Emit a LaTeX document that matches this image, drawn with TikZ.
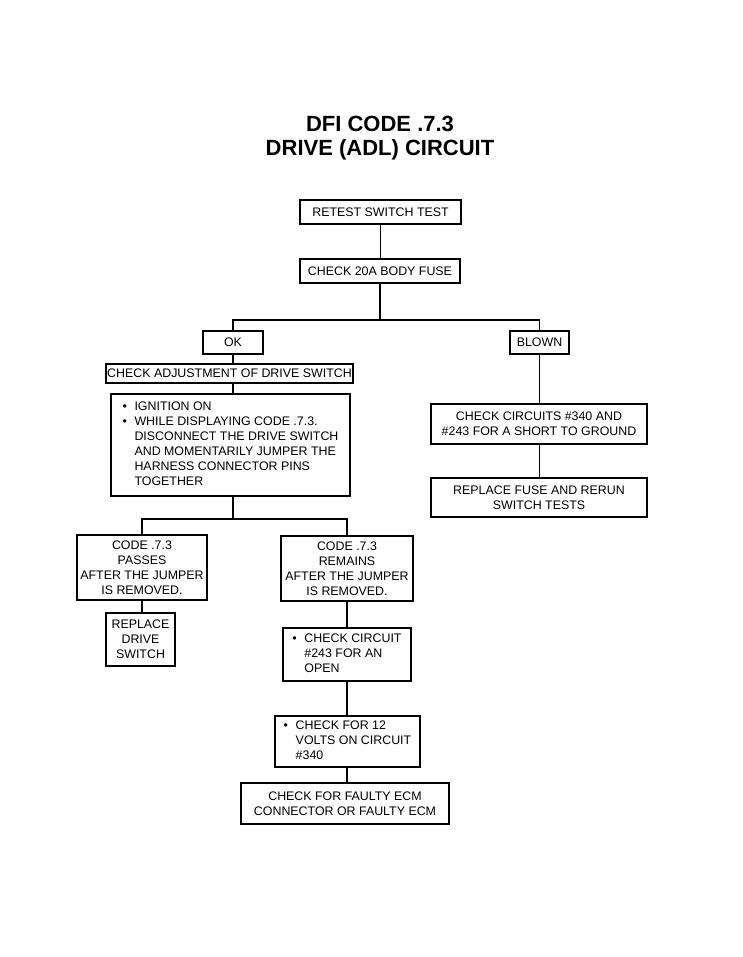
\documentclass[tikz,border=0pt]{standalone}
\usepackage{fontspec}
\setmainfont{Liberation Sans}
\begin{document}
\begin{tikzpicture}[x=1pt,y=-1pt,
  box/.style={draw=black,line width=1.6pt,inner sep=0pt,align=center,
    font=\fontsize{12.4}{15}\selectfont},
  conn/.style={draw=black,line width=1.5pt},
  thinconn/.style={draw=black,line width=0.9pt},
  ttl/.style={font=\fontsize{22}{26}\selectfont\bfseries}]
\useasboundingbox (0,0) rectangle (743,957);
\node[ttl] (t1) at (380,124) {DFI CODE .7.3};
\node[ttl] (t2) at (380,150) {DRIVE (ADL) CIRCUIT};
\node[box,minimum width=161pt,minimum height=24pt] (retest) at (380.5,212) {RETEST SWITCH TEST};
\node[box,minimum width=160pt,minimum height=24pt] (fuse) at (380,271) {CHECK 20A BODY FUSE};
\node[box,minimum width=60pt,minimum height=23pt] (ok) at (233,342.5) {OK};
\node[box,minimum width=59pt,minimum height=23pt] (blown) at (539.5,342.5) {BLOWN};
\node[box,minimum width=247pt,minimum height=19pt] (adj) at (229.5,373.5) {CHECK ADJUSTMENT OF DRIVE SWITCH};
\node[box,minimum width=239pt,minimum height=102pt] (bul) at (230.5,445) {%
  \begin{tabular}{@{}p{9pt}@{\hspace{3pt}}l@{}}
  \textbullet & IGNITION ON\\
  \textbullet & WHILE DISPLAYING CODE .7.3.\\
   & DISCONNECT THE DRIVE SWITCH\\
   & AND MOMENTARILY JUMPER THE\\
   & HARNESS CONNECTOR PINS\\
   & TOGETHER
  \end{tabular}};
\node[box,minimum width=130pt,minimum height=65pt] (passes) at (142,567.5) {CODE .7.3\\PASSES\\AFTER THE JUMPER\\IS REMOVED.};
\node[box,minimum width=132pt,minimum height=65pt] (remains) at (347,568.5) {CODE .7.3\\REMAINS\\AFTER THE JUMPER\\IS REMOVED.};
\node[box,minimum width=69pt,minimum height=53pt] (repl) at (140.5,639.5) {REPLACE\\DRIVE\\SWITCH};
\node[box,minimum width=128pt,minimum height=53pt] (open) at (347,654.5) {%
  \begin{tabular}{@{}p{9pt}@{\hspace{3pt}}l@{}}
  \textbullet & CHECK CIRCUIT\\
   & \#243 FOR AN\\
   & OPEN
  \end{tabular}};
\node[box,minimum width=145pt,minimum height=51pt] (volts) at (347.5,741.5) {%
  \begin{tabular}{@{}p{9pt}@{\hspace{3pt}}l@{}}
  \textbullet & CHECK FOR 12\\
   & VOLTS ON CIRCUIT\\
   & \#340
  \end{tabular}};
\node[box,minimum width=208pt,minimum height=41pt] (ecm) at (345,803.5) {CHECK FOR FAULTY ECM\\CONNECTOR OR FAULTY ECM};
\node[box,minimum width=216pt,minimum height=40pt] (short) at (539,424) {CHECK CIRCUITS \#340 AND\\\#243 FOR A SHORT TO GROUND};
\node[box,minimum width=216pt,minimum height=39pt] (rerun) at (539,497.5) {REPLACE FUSE AND RERUN\\SWITCH TESTS};
\coordinate (j1) at (380,320);
\coordinate (j2) at (233,519);
\draw[thinconn] (retest.south -| fuse.north) -- (fuse.north);
\draw[conn] (fuse.south) -- (j1);
\draw[conn] (ok.north) |- (j1) -| (blown.north);
\draw[conn] (ok.south) -- (ok.south |- adj.north);
\draw[conn] (ok.south |- adj.south) -- (ok.south |- bul.north);
\draw[conn] (ok.south |- bul.south) -- (j2);
\draw[conn] (passes.north) |- (j2) -| (remains.north);
\draw[conn] (passes.south) -- (passes.south |- repl.north);
\draw[conn] (remains.south) -- (open.north);
\draw[conn] (open.south) -- (open.south |- volts.north);
\draw[conn] (open.south |- volts.south) -- (open.south |- ecm.north);
\draw[thinconn] (blown.south) -- (blown.south |- short.north);
\draw[conn] (blown.south |- short.south) -- (blown.south |- rerun.north);
\end{tikzpicture}
\end{document}
